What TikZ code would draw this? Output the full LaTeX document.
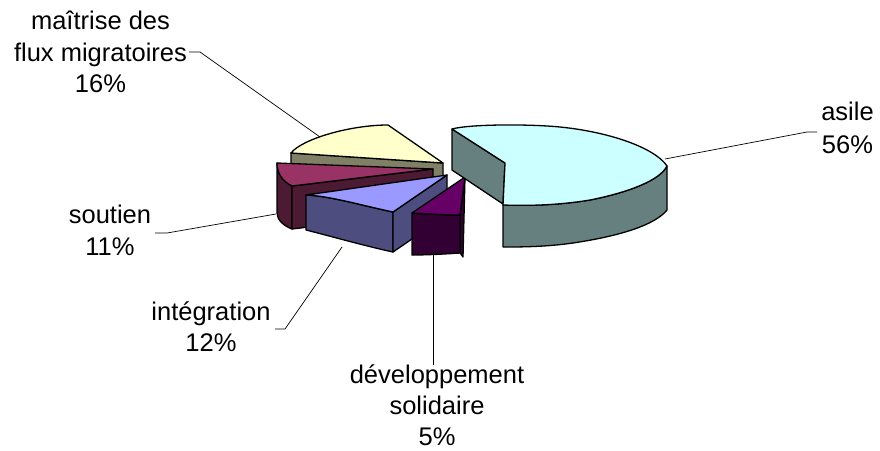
\documentclass[tikz,border=0pt]{standalone}
\usepackage{fontspec}
\setmainfont{Liberation Sans}

% slice colours: top faces and darker side faces
\definecolor{asileTop}{HTML}{CCFFFF}
\definecolor{asileSide}{HTML}{668080}
\definecolor{maitTop}{HTML}{FFFFCC}
\definecolor{maitSide}{HTML}{808066}
\definecolor{soutTop}{HTML}{993366}
\definecolor{soutSide}{HTML}{4D1A33}
\definecolor{integTop}{HTML}{9999FF}
\definecolor{integSide}{HTML}{4D4D80}
\definecolor{devTop}{HTML}{660066}
\definecolor{devSide}{HTML}{330033}

\tikzset{
  face/.style={draw=black, line width=1.3pt, line join=round},
  leader/.style={draw=black, line width=0.7pt},
  lab/.style={font=\fontsize{25.5}{30}\selectfont, anchor=base, inner sep=0pt},
}

\begin{document}
\begin{tikzpicture}[x=1pt, y=-1pt]
\fill[white] (0,0) rectangle (880,450);
\useasboundingbox (0,0) rectangle (880,450);

% --- maîtrise des flux migratoires (farthest slice)
\path[face, fill=maitSide] (291,153) -- (443,163) -- (443,197) -- (291,187) -- cycle;
\path[face, fill=maitTop] (291,153) .. controls (302,139) and (350,125) .. (388,125) -- (443,163) -- cycle;

% --- soutien
\path[face, fill=soutSide] (277,163) .. controls (277,173) and (282,181) .. (292,186) -- (292,229) .. controls (284,226) and (277,220) .. (277,213) -- cycle;
\path[face, fill=soutSide] (292,186) -- (433,169) -- (433,212) -- (292,229) -- cycle;
\path[face, fill=soutTop] (277,163) -- (433,169) -- (292,186) .. controls (282,181) and (277,173) .. (277,163) -- cycle;

% --- intégration
\path[face, fill=integSide] (306,195) .. controls (330,196) and (360,205) .. (393,212) -- (393,252) .. controls (365,246) and (330,236) .. (306,230) -- cycle;
\path[face, fill=integSide] (393,212) -- (447,175) -- (447,215) -- (393,252) -- cycle;
\path[face, fill=integTop] (306,195) -- (447,175) -- (393,212) .. controls (360,205) and (330,196) .. (306,195) -- cycle;

% --- développement solidaire
\path[face, fill=devSide] (460,215) -- (465,177) -- (463,257) -- (460,253) -- cycle;
\path[face, fill=devSide] (412,213) .. controls (428,214) and (445,215) .. (460,215) -- (460,253) .. controls (445,254) and (428,255) .. (412,255) -- cycle;
\path[face, fill=devTop] (465,177) -- (412,213) .. controls (428,214) and (445,215) .. (460,215) -- cycle;

% --- asile (pulled out to the right)
\path[face, fill=asileSide] (452,129) -- (505,163) -- (503,204) -- (452,170) -- cycle;
\path[face, fill=asileSide] (503,205) .. controls (530,206) and (560,205) .. (590,200) .. controls (630,192) and (660,180) .. (667,166) -- (667,210) .. controls (655,225) and (620,236) .. (573,243) .. controls (545,247) and (520,247) .. (503,247) -- cycle;
\path[face, fill=asileTop] (452,129) .. controls (470,124) and (530,124) .. (560,127) .. controls (610,132) and (655,148) .. (667,166) .. controls (660,180) and (630,192) .. (590,200) .. controls (560,205) and (530,206) .. (503,205) -- (505,163) -- cycle;

% --- labels
\node[lab] (asileA) at (847.5,120.5) {asile};
\node[lab] (asileB) at (847.5,153) {56\%};
\node[lab] (maitA) at (100.5,29.5) {maîtrise des};
\node[lab] (maitB) at (100.5,61) {flux migratoires};
\node[lab] (maitC) at (100.5,92.5) {16\%};
\node[lab] (soutA) at (110,223.5) {soutien};
\node[lab] (soutB) at (110,255) {11\%};
\node[lab] (integA) at (211,320) {intégration};
\node[lab] (integB) at (211,351.5) {12\%};
\node[lab] (devA) at (437,383.5) {développement};
\node[lab] (devB) at (437,414.5) {solidaire};
\node[lab] (devC) at (437,445.5) {5\%};

% --- leader lines
\coordinate (asileS) at (665,159);
\coordinate (asileK) at (807,132);
\coordinate (asileE) at (817,132);
\coordinate (maitS) at (320,137);
\coordinate (maitK) at (200,52);
\coordinate (maitE) at (189,52);
\coordinate (soutS) at (276,214);
\coordinate (soutK) at (167,233);
\coordinate (soutE) at (155,233);
\coordinate (integS) at (342,247);
\coordinate (integK) at (285,329);
\coordinate (integE) at (275,329);
\coordinate (devS) at (433,255);
\coordinate (devE) at (433,365);

\draw[leader] (asileS) -- (asileK) -- (asileE);
\draw[leader] (maitS) -- (maitK) -- (maitE);
\draw[leader] (soutS) -- (soutK) -- (soutE);
\draw[leader] (integS) -- (integK) -- (integE);
\draw[leader] (devS) -- (devE);
\end{tikzpicture}
\end{document}
